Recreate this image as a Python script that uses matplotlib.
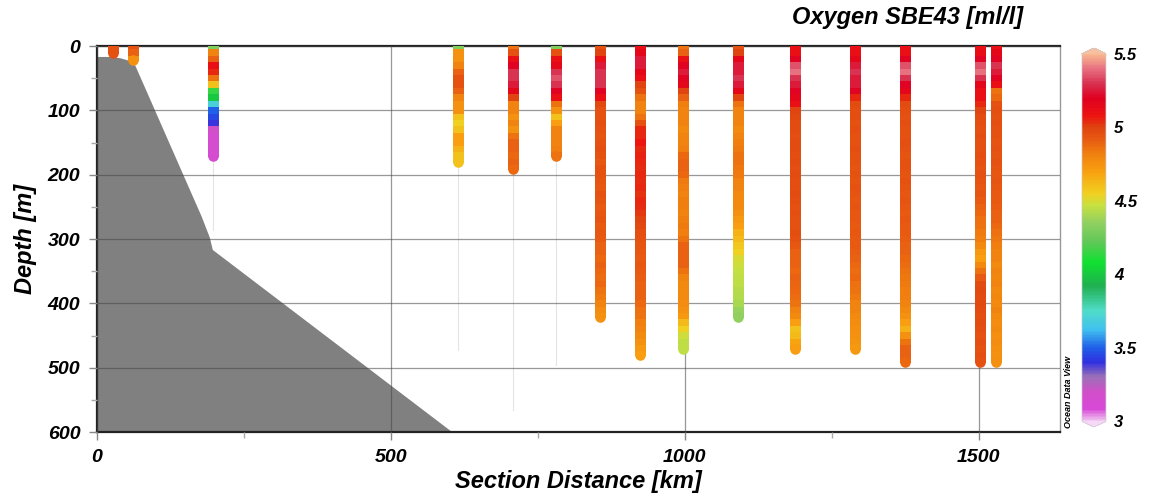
import matplotlib
matplotlib.use("Agg")
import matplotlib.pyplot as plt
from matplotlib.colors import LinearSegmentedColormap, Normalize
from matplotlib.collections import LineCollection
from matplotlib.ticker import MultipleLocator
import numpy as np

plt.rcParams['font.family'] = ['Liberation Sans', 'DejaVu Sans']
plt.rcParams['font.weight'] = 'bold'
plt.rcParams['font.style'] = 'italic'
plt.rcParams['axes.labelweight'] = 'bold'

# ---- data ----
depth_m = [0, 10, 20, 30, 40, 50, 60, 70, 80, 90,
           100, 110, 120, 130, 140, 150, 160, 170, 180, 190,
           200, 210, 220, 230, 240, 250, 260, 270, 280, 290,
           300, 310, 320, 330, 340, 350, 360, 370, 380, 390,
           400, 410, 420, 430, 440, 450, 460, 470, 480, 490]

station_km = [27, 61, 197, 614, 707, 780, 855, 923, 997, 1090, 1187, 1289, 1374, 1502, 1529]

st01 = [4.95, 4.95]
st02 = [4.95, 4.9, 4.75]
st03 = [4.3, 4.8, 4.9, 5.1, 5.05, 4.85, 4.6, 4.15, 4.0, 3.7,
        3.5, 3.45, 3.4, 3.2, 3.15, 3.15, 3.15, 3.15]
st04 = [4.3, 4.75, 4.75, 4.8, 4.9, 4.95, 4.95, 4.9, 4.8, 4.75,
        4.75, 4.6, 4.55, 4.6, 4.7, 4.7, 4.65, 4.6, 4.6]
st05 = [4.85, 4.95, 5.1, 5.2, 5.3, 5.3, 5.25, 5.15, 5.0, 4.8,
        4.8, 4.75, 4.8, 4.75, 4.85, 4.9, 4.9, 4.88, 4.9, 4.88]
st06 = [4.3, 4.95, 5.1, 5.15, 5.3, 5.35, 5.3, 5.2, 5.1, 4.85,
        4.75, 4.6, 4.7, 4.8, 4.8, 4.8, 4.82, 4.85]
st07 = [4.95, 5.0, 5.1, 5.25, 5.3, 5.3, 5.3, 5.2, 5.1, 4.98,
        4.95, 4.95, 4.96, 4.95, 4.94, 4.95, 4.96, 4.95, 4.93, 4.95,
        4.95, 4.94, 4.93, 4.95, 4.94, 4.92, 4.93, 4.94, 4.92, 4.93,
        4.92, 4.9, 4.9, 4.88, 4.9, 4.88, 4.87, 4.88, 4.85, 4.83,
        4.8, 4.77, 4.75]
st08 = [5.1, 5.15, 5.25, 5.25, 5.15, 5.1, 5.0, 4.95, 4.85, 4.8,
        4.8, 4.85, 4.95, 5.05, 5.05, 5.08, 5.05, 5.06, 5.05, 5.04,
        5.05, 5.04, 5.05, 5.03, 5.05, 5.04, 5.02, 5.0, 4.98, 4.96,
        4.95, 4.94, 4.93, 4.92, 4.93, 4.92, 4.91, 4.9, 4.9, 4.9,
        4.88, 4.86, 4.85, 4.82, 4.8, 4.78, 4.75, 4.72, 4.7]
st09 = [4.85, 4.9, 5.1, 5.2, 5.25, 5.2, 5.15, 5.0, 4.9, 4.82,
        4.8, 4.8, 4.8, 4.78, 4.8, 4.8, 4.82, 4.88, 4.9, 4.9,
        4.88, 4.83, 4.82, 4.8, 4.82, 4.82, 4.8, 4.82, 4.83, 4.82,
        4.85, 4.9, 4.9, 4.9, 4.9, 4.85, 4.8, 4.78, 4.78, 4.78,
        4.77, 4.75, 4.72, 4.62, 4.55, 4.48, 4.45, 4.45]
st10 = [4.95, 5.0, 5.15, 5.25, 5.25, 5.3, 5.25, 5.15, 5.0, 4.85,
        4.8, 4.8, 4.8, 4.78, 4.8, 4.82, 4.83, 4.85, 4.85, 4.84,
        4.83, 4.8, 4.8, 4.78, 4.78, 4.78, 4.75, 4.72, 4.7, 4.65,
        4.62, 4.58, 4.55, 4.5, 4.48, 4.46, 4.45, 4.45, 4.43, 4.42,
        4.4, 4.36, 4.35]
st11 = [5.1, 5.1, 5.2, 5.35, 5.4, 5.3, 5.25, 5.2, 5.15, 5.1,
        5.0, 4.98, 4.97, 4.97, 4.96, 4.97, 4.97, 4.96, 4.97, 4.96,
        4.97, 4.96, 4.96, 4.97, 4.96, 4.95, 4.96, 4.95, 4.95, 4.96,
        4.95, 4.93, 4.9, 4.9, 4.9, 4.88, 4.9, 4.89, 4.88, 4.87,
        4.85, 4.8, 4.78, 4.7, 4.6, 4.62, 4.68, 4.7]
st12 = [5.1, 5.1, 5.15, 5.25, 5.3, 5.25, 5.25, 5.2, 5.05, 4.97,
        4.96, 4.96, 4.95, 4.96, 4.95, 4.95, 4.96, 4.95, 4.95, 4.94,
        4.95, 4.94, 4.95, 4.94, 4.93, 4.94, 4.93, 4.93, 4.92, 4.93,
        4.92, 4.92, 4.91, 4.9, 4.88, 4.87, 4.88, 4.86, 4.85, 4.83,
        4.8, 4.8, 4.78, 4.77, 4.76, 4.75, 4.74, 4.72]
st13 = [5.1, 5.1, 5.2, 5.35, 5.4, 5.3, 5.2, 5.15, 5.05, 4.97,
        4.96, 4.95, 4.96, 4.95, 4.95, 4.96, 4.95, 4.94, 4.95, 4.95,
        4.94, 4.95, 4.94, 4.93, 4.94, 4.93, 4.92, 4.93, 4.92, 4.92,
        4.91, 4.9, 4.9, 4.88, 4.87, 4.85, 4.84, 4.83, 4.82, 4.82,
        4.8, 4.78, 4.75, 4.7, 4.65, 4.75, 4.85, 4.9, 4.9, 4.88]
st14 = [5.1, 5.12, 5.2, 5.35, 5.4, 5.3, 5.15, 5.1, 5.1, 5.05,
        5.0, 4.97, 4.96, 4.95, 4.96, 4.95, 4.95, 4.96, 4.95, 4.94,
        4.95, 4.94, 4.93, 4.94, 4.92, 4.9, 4.88, 4.86, 4.85, 4.83,
        4.82, 4.78, 4.72, 4.7, 4.78, 4.85, 4.92, 4.97, 4.98, 4.97,
        4.98, 4.97, 4.96, 4.97, 4.96, 4.95, 4.96, 4.95, 4.96, 4.95]
st15 = [5.1, 5.15, 5.2, 5.3, 5.25, 5.2, 5.1, 4.85, 4.88, 4.95,
        4.96, 4.95, 4.96, 4.95, 4.95, 4.94, 4.95, 4.94, 4.95, 4.94,
        4.93, 4.94, 4.93, 4.92, 4.92, 4.91, 4.9, 4.9, 4.88, 4.86,
        4.84, 4.82, 4.8, 4.8, 4.78, 4.8, 4.79, 4.8, 4.78, 4.79,
        4.78, 4.8, 4.78, 4.77, 4.78, 4.76, 4.77, 4.76, 4.75, 4.76]
oxygen = [st01, st02, st03, st04, st05, st06, st07, st08, st09, st10,
          st11, st12, st13, st14, st15]

# faint cast lines below some stations
cast_km = [197, 614, 707, 780]
cast_top = [180, 185, 198, 178]
cast_bottom = [286, 472, 566, 496]

# bottom topography
bathy_km = [0, 20, 40, 55, 65, 178, 192, 197, 604, 0]
bathy_depth = [17, 17, 19, 23, 30, 265, 298, 317, 600, 600]

# ODV-like colour scale
cbar_levels = [3.00, 3.08, 3.20, 3.30, 3.40, 3.50, 3.62, 3.75, 3.92, 4.08, 4.22, 4.35,
               4.47, 4.55, 4.70, 4.82, 4.92, 5.00, 5.08, 5.20, 5.30, 5.40, 5.50]
cbar_colors = ['#f0c8f0', '#d848d8', '#d050c8', '#9a70b8', '#3030e0', '#2060e8', '#40c0f0',
               '#50dcc8', '#20b050', '#10e030', '#60c858', '#90d060', '#c8e040', '#f0d020',
               '#f8a010', '#f08010', '#e85a12', '#e04410', '#ec1410', '#e00020', '#d83050',
               '#e87080', '#f8b890']

vmin, vmax = 3.0, 5.5
cmap = LinearSegmentedColormap.from_list(
    'odv', [((v - vmin) / (vmax - vmin), c) for v, c in zip(cbar_levels, cbar_colors)])
cmap.set_over('#f8c0a0')
cmap.set_under('#f8d8f8')
norm = Normalize(vmin, vmax)

fig = plt.figure(figsize=(11.53, 4.98), dpi=100)
ax = fig.add_axes([0.0841, 0.1325, 0.8352, 0.7751])

ax.fill(bathy_km, bathy_depth, color='#808080', lw=0, zorder=1)
for k, t, b in zip(cast_km, cast_top, cast_bottom):
    ax.plot([k, k], [t, b], color='#e4e4e4', lw=0.8, zorder=1.5)

# each sample drawn as a short bar (overlapping the next one), with a round
# dot closing the bottom of the cast
col_w = 7.6  # points
for k, vals in zip(station_km, oxygen):
    d = depth_m[:len(vals)]
    end = d[-1] + 1
    segs = [[(k, di - 5), (k, min(di + 7, end))] for di in d]
    lc = LineCollection(segs, colors=cmap(norm(vals)), linewidths=col_w,
                        capstyle='butt', antialiaseds=False, zorder=3)
    ax.add_collection(lc)
    ax.scatter([k], [end], color=cmap(norm(vals[-1])), s=col_w ** 2,
               linewidths=0, zorder=3.1)

ax.set_xlim(0, 1638)
ax.set_ylim(600, 0)
ax.xaxis.set_major_locator(MultipleLocator(500))
ax.xaxis.set_minor_locator(MultipleLocator(250))
ax.yaxis.set_major_locator(MultipleLocator(100))
ax.yaxis.set_minor_locator(MultipleLocator(50))
ax.grid(True, which='major', color='#444444', alpha=0.55, lw=0.9, zorder=2)
ax.set_axisbelow(False)

ax.tick_params(which='major', length=6, width=1, color='#888888', labelsize=14, pad=6)
ax.tick_params(which='minor', length=4, width=1, color='#aaaaaa')
for sp in ['left', 'bottom', 'top']:
    ax.spines[sp].set_linewidth(1.6)
    ax.spines[sp].set_color('#222222')
ax.spines['right'].set_color('#999999')
ax.spines['right'].set_linewidth(1.0)

ax.set_xlabel('Section Distance [km]', fontsize=17, labelpad=3)
ax.set_ylabel('Depth [m]', fontsize=17, labelpad=8)
fig.text(0.787, 0.965, 'Oxygen SBE43 [ml/l]', fontsize=17, ha='center', va='center')

cax = fig.add_axes([0.9384, 0.1426, 0.0208, 0.761])
cb = fig.colorbar(plt.cm.ScalarMappable(norm=norm, cmap=cmap), cax=cax,
                  extend='both', extendfrac=0.015)
cb.set_ticks([3, 3.5, 4, 4.5, 5, 5.5])
cb.set_ticklabels(['3', '3.5', '4', '4.5', '5', '5.5'])
cb.outline.set_edgecolor('#cccccc')
cb.outline.set_linewidth(0.5)
cax.tick_params(length=0, labelsize=12, pad=6)
fig.text(0.9265, 0.14, 'Ocean Data View', rotation=90, fontsize=6.5,
         ha='center', va='bottom')

fig.savefig('out.png', dpi=100)
